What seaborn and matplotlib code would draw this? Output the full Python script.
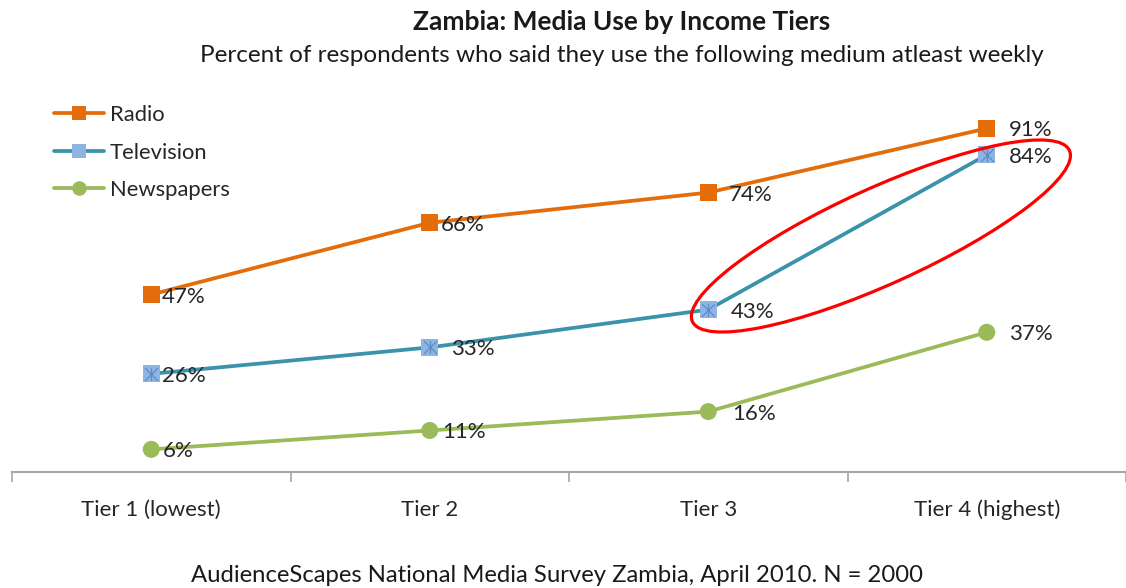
import numpy as np
import pandas as pd
import seaborn as sns
import matplotlib.pyplot as plt
from matplotlib.path import Path
from matplotlib.patches import Ellipse
from matplotlib.lines import Line2D
from matplotlib.transforms import IdentityTransform

# Survey results: share using each medium at least weekly, by income tier
tiers = ["Tier 1 (lowest)", "Tier 2", "Tier 3", "Tier 4 (highest)"]
media = ["Radio", "Television", "Newspapers"]
radio = [47, 66, 74, 91]
television = [26, 33, 43, 84]
newspapers = [6, 11, 16, 37]

title = "Zambia: Media Use by Income Tiers"
subtitle = "Percent of respondents who said they use the following medium atleast weekly"
source = "AudienceScapes National Media Survey Zambia, April 2010. N = 2000"

line_colors = {"Radio": "#E46C0A", "Television": "#3A93AA", "Newspapers": "#9BBB59"}
marker_colors = {"Radio": "#E46C0A", "Television": "#8DB4E2", "Newspapers": "#9BBB59"}
marker_shapes = {"Radio": "s", "Television": "s", "Newspapers": "o"}

sns.set_theme(style="white")
plt.rcParams["font.family"] = ["Lato", "DejaVu Sans"]

df = pd.DataFrame({
    "pos": list(range(len(tiers))) * len(media),
    "value": radio + television + newspapers,
    "medium": np.repeat(media, len(tiers)),
})

W, H = 1126, 588
fig = plt.figure(figsize=(W / 100, H / 100), dpi=100)
ax = fig.add_axes([12 / W, 116 / H, 1114 / W, 377.6 / H])

sns.lineplot(data=df, x="pos", y="value", hue="medium", hue_order=media,
             palette=line_colors, linewidth=2.7, legend=False, ax=ax, zorder=2)
sns.scatterplot(data=df, x="pos", y="value", hue="medium", hue_order=media,
                palette=marker_colors, style="medium", markers=marker_shapes,
                s=150, linewidth=0, legend=False, ax=ax, zorder=3)

# asterisk-style overlay on the television markers
star = Path([(0, -1), (0, 1), (-1, -1), (1, 1), (-1, 1), (1, -1)],
            [Path.MOVETO, Path.LINETO] * 3)
tv = df[df["medium"] == "Television"]
ax.scatter(tv["pos"], tv["value"], marker=star, s=85, color="#5B8CC8",
           linewidths=0.9, zorder=4)

# data labels to the right of each point
offsets = {"Radio": [11, 11, 21, 22], "Television": [11, 21, 23, 22],
           "Newspapers": [11, 12, 24, 22]}
for name, vals in zip(media, [radio, television, newspapers]):
    for i, v in enumerate(vals):
        ax.annotate(f"{v}%", (i, v), xytext=(offsets[name][i], -2),
                    textcoords="offset pixels", ha="left", va="center",
                    fontsize=16, color="#262626", zorder=5)

ax.set_xlim(-0.5, -0.5 + 1114 / 281)
ax.set_ylim(0, 100)
ax.set_xticks(range(len(tiers)))
ax.set_xticklabels(tiers, fontsize=16, color="#262626")
ax.set_xticks([-0.5, 0.5, 1.5, 2.5, 3.5], minor=True)
ax.tick_params(axis="x", which="major", length=0, pad=20)
ax.tick_params(axis="x", which="minor", length=7, width=1.2, color="#A6A6A6",
               direction="out", bottom=True)
ax.set_yticks([])
ax.set_xlabel("")
ax.set_ylabel("")
for side in ["left", "right", "top"]:
    ax.spines[side].set_visible(False)
ax.spines["bottom"].set_color("#A6A6A6")
ax.spines["bottom"].set_linewidth(1.5)

# legend
handles = [
    Line2D([], [], color=line_colors["Radio"], lw=2.7, marker="s", ms=10.5,
           markerfacecolor=marker_colors["Radio"], markeredgewidth=0),
    Line2D([], [], color=line_colors["Television"], lw=2.7, marker="s", ms=10.5,
           markerfacecolor=marker_colors["Television"], markeredgewidth=0),
    Line2D([], [], color=line_colors["Newspapers"], lw=2.7, marker="o", ms=10.5,
           markerfacecolor=marker_colors["Newspapers"], markeredgewidth=0),
]
leg = fig.legend(handles, media, loc="upper left",
                 bbox_to_anchor=(54 / W, 1 - 105 / H), frameon=False,
                 fontsize=15.8, handlelength=2.3, handletextpad=0.25,
                 labelspacing=0.8, borderpad=0, borderaxespad=0)
for t in leg.get_texts():
    t.set_color("#262626")

# highlight of the steep television rise between tiers 3 and 4
fig.canvas.draw()
cx, cy = ax.transData.transform((2.62, 62.5))
ax.add_patch(Ellipse((cx, cy), width=414, height=96, angle=24.4,
                     transform=IdentityTransform(), fill=False,
                     edgecolor="#FF0000", linewidth=2.3, zorder=6,
                     clip_on=False))

fig.text(622 / W, 1 - 22 / H, title, ha="center", va="center",
         fontsize=19, fontweight="bold", color="#1A1A1A")
fig.text(622 / W, 1 - 55 / H, subtitle, ha="center", va="center",
         fontsize=17.5, color="#1A1A1A")
fig.text(557 / W, 1 - 576 / H, source, ha="center", va="center",
         fontsize=17.2, color="#1A1A1A")

fig.savefig("out.png", dpi=100)
